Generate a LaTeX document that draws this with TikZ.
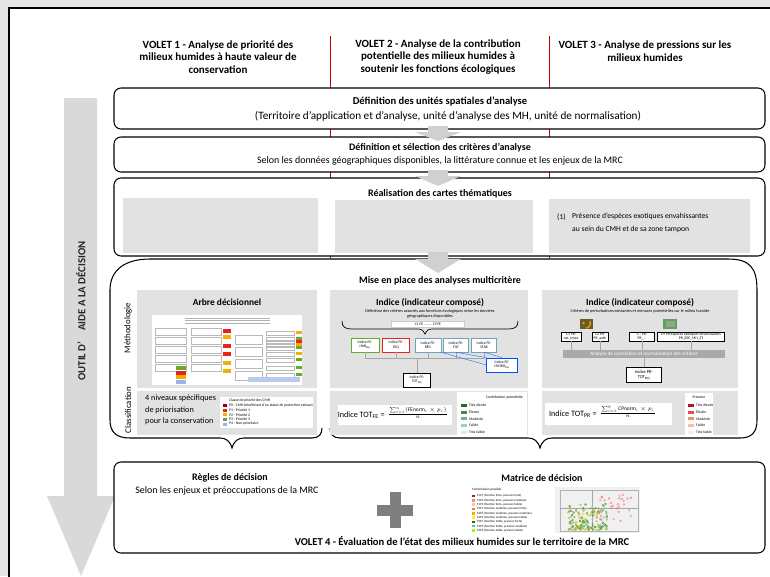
\documentclass[tikz,border=0pt]{standalone}
\usepackage{fix-cm}
\usepackage{amsmath}
\usepackage{fontspec}
\setmainfont{Carlito}
\usepackage{tikz}
\usetikzlibrary{positioning, calc}

\definecolor{bggray}{HTML}{E6E6E6}
\definecolor{panelgray}{HTML}{E2E2E2}
\definecolor{biggray}{HTML}{D9D9D9}
\definecolor{flowgray}{HTML}{D0D0D0}
\definecolor{plusgray}{HTML}{7F7F7F}
\definecolor{bargray}{HTML}{A9A9A9}
\definecolor{redline}{HTML}{C00000}
\definecolor{tagred}{HTML}{E8221C}
\definecolor{tagorange}{HTML}{F2B000}
\definecolor{taggreen}{HTML}{6AAA2A}
\definecolor{tagblue}{HTML}{9DB3E8}
\definecolor{tagdark}{HTML}{8B0000}
\definecolor{gA}{HTML}{1E6B35}
\definecolor{gB}{HTML}{3D8B4F}
\definecolor{gC}{HTML}{78B08A}
\definecolor{gD}{HTML}{A9CFB3}
\definecolor{gE}{HTML}{DCEFE2}
\definecolor{rA}{HTML}{B0182A}
\definecolor{rB}{HTML}{D9534F}
\definecolor{rC}{HTML}{E8907A}
\definecolor{rD}{HTML}{F2C0A8}
\definecolor{rE}{HTML}{FBEBDF}

\begin{document}
\begin{tikzpicture}[x=0.03cm, y=-0.03cm,
    hdr/.style={font=\fontsize{9.4}{10.6}\selectfont\bfseries, align=center, inner sep=0pt},
    ttl/.style={font=\fontsize{8.5}{10}\selectfont\bfseries, inner sep=0pt},
    txt/.style={font=\fontsize{8.5}{10}\selectfont, inner sep=0pt},
    sub/.style={font=\fontsize{8}{9}\selectfont\bfseries, inner sep=0pt},
    side/.style={rotate=90, font=\fontsize{7.5}{9}\selectfont, inner sep=0pt},
    stage/.style={draw, line width=0.9pt, rounded corners=6pt, fill=white},
    panel/.style={fill=panelgray},
    mini/.style={draw, font=\fontsize{3.2}{3.6}\selectfont, align=center, inner sep=0.6pt, fill=white},
    formula/.style={font=\fontsize{7}{8}\selectfont, inner sep=0pt},
    fracpart/.style={font=\fontsize{4.6}{5}\selectfont, inner sep=0.3pt},
    legbox/.style={fill=white},
    legtxt/.style={font=\fontsize{3.2}{3.6}\selectfont, inner sep=0pt, anchor=west}]

  % Frame of the page
  \useasboundingbox (0,0) rectangle (770,576);
  \fill[bggray] (0,0) rectangle (770,576);
  \draw[line width=1.6pt, fill=white] (9,8) rectangle (800,600);

  % Big arrow of the decision tool
  \fill[biggray] (64,98) -- (97,98) -- (97,496) -- (115,496) -- (81,576) -- (47,496) -- (64,496) -- cycle;
  \node[rotate=90, font=\fontsize{9.2}{11}\selectfont\bfseries, text=black!85] (outil) at (81,311)
    {OUTIL D'\hspace{1em}AIDE A LA DÉCISION};

  % Column headers and separators
  \node[hdr] (volet1) at (218,57) {VOLET 1 - Analyse de priorité des\\milieux humides à haute valeur de\\conservation};
  \node[hdr] (volet2) at (438,57) {VOLET 2 - Analyse de la contribution\\potentielle des milieux humides à\\soutenir les fonctions écologiques};
  \node[hdr] (volet3) at (645,51) {VOLET 3 - Analyse de pressions sur les\\milieux humides};
  \draw[redline, line width=0.8pt] (330,36) -- (330,258);
  \draw[redline, line width=0.8pt] (549,36) -- (549,258);

  % Stage 1
  \draw[stage] (114,88) rectangle (765,129);
  \node[ttl, font=\fontsize{9}{10}\selectfont\bfseries] (unites) at (440,101) {Définition des unités spatiales d'analyse};
  \node[txt, font=\fontsize{9.6}{10}\selectfont] (territoire) at (448,116) {(Territoire d'application et d'analyse, unité d'analyse des MH, unité de normalisation)};

  % Stage 2
  \draw[stage] (114,137) rectangle (765,172);
  \node[ttl] (criteres) at (440,148) {Définition et sélection des critères d'analyse};
  \node[txt] (selon) at (440,161) {Selon les données géographiques disponibles, la littérature connue et les enjeux de la MRC};

  % Stage 3
  \draw[stage] (114,178) rectangle (765,256);
  \fill[panelgray] (123,198) rectangle (318,253);
  \fill[panelgray] (335,200) rectangle (533,253);
  \fill[panelgray] (549,199) rectangle (750,253);
  \node[ttl] (cartes) at (440,194) {Réalisation des cartes thématiques};
  \node[font=\fontsize{6.5}{8}\selectfont, inner sep=0pt, anchor=west] (num) at (557,217) {(1)};
  \node[font=\fontsize{6.5}{11}\selectfont, inner sep=0pt, anchor=north west, align=left] (exotiques) at (572,213)
    {Présence d'espèces exotiques envahissantes\\au sein du CMH et de sa zone tampon};

  % Stage 4
  \draw[line width=0.9pt] (150,259) -- (728,259) .. controls (750,259) and (757,268) .. (757,290)
    -- (757,420) .. controls (757,432) and (752,438) .. (740,438) -- (552,438)
    .. controls (546,438) and (542,441) .. (540,448) .. controls (538,441) and (534,438) .. (528,438)
    -- (340,438) .. controls (333,438) and (330,434) .. (330,428);
  \draw[line width=0.9pt] (322,428) .. controls (322,434) and (319,438) .. (312,438) -- (244,438)
    .. controls (238,438) and (234,441) .. (232,448) .. controls (230,441) and (226,438) .. (220,438)
    -- (130,438) .. controls (116,438) and (110,432) .. (110,420) -- (110,290)
    .. controls (110,270) and (125,259) .. (150,259);
  \node[ttl] (mise) at (440,281) {Mise en place des analyses multicritère};
  \node[side] (metho) at (128,328) {Méthodologie};
  \node[side] (classif) at (128,410) {Classification};
  \foreach \xa/\xb in {137/317, 330/528, 542/738} {
    \fill[panelgray] (\xa,290) rectangle (\xb,388);
    \fill[panelgray] (\xa,391) rectangle (\xb,435);
  }

  % Panel 1 : decision tree
  \node[sub] (arbre) at (227,302) {Arbre décisionnel};
  \fill[white] (152,315) rectangle (302,385);
  \foreach \yy in {318,320.5,323}
    \draw[gray!60, line width=0.25pt] (185,\yy) -- (270,\yy);
  \foreach \yy in {328,337,346,355,364} {
    \draw[gray!55, line width=0.2pt] (155,\yy) rectangle (186,\yy+7);
    \draw[gray!55, line width=0.2pt] (191,\yy) rectangle (221,\yy+7);
  }
  \foreach \yy/\c in {329/tagred, 335/tagorange, 344/tagred, 352/tagred, 361/tagorange, 369/tagorange}
    \fill[\c] (223,\yy) rectangle (231,\yy+3.5);
  \foreach \yy in {335,347,359,371}
    \draw[gray!55, line width=0.2pt] (235,\yy) rectangle (262,\yy+9);
  \foreach \yy/\c in {331/tagorange, 337/taggreen, 340/tagred, 343/tagorange, 346/taggreen, 352/tagorange, 358/taggreen, 366/taggreen, 373/taggreen} {
    \draw[gray!55, line width=0.2pt] (266,\yy) rectangle (294,\yy+4);
    \fill[\c] (296,\yy) rectangle (302,\yy+3);
  }
  \foreach \yy/\c in {366/taggreen, 370.5/tagred, 375/tagorange, 379.5/tagblue}
    \fill[\c] (176,\yy) rectangle (186,\yy+4);
  \fill[tagblue!70] (248,377) rectangle (300,382);

  % Panel 1 : classification
  \node[font=\fontsize{7}{10}\selectfont, inner sep=0pt, anchor=west, align=left] (niveaux) at (145,410)
    {4 niveaux spécifiques\\de priorisation\\pour la conservation};
  \fill[legbox] (220,397) rectangle (313,428);
  \node[legtxt] (classe) at (229,400) {Classe de priorité des CMH};
  \foreach \c/\t [count=\k] in {tagdark/{P0 - CMH bénéficiant d'un statut de protection existant}, tagred/{P1 - Priorité 1},
      tagorange/{P2 - Priorité 2}, taggreen/{P3 - Priorité 3}, tagblue/{P4 - Non prioritaire}} {
    \fill[\c] (223,399.5+4.6*\k) rectangle (227,402.5+4.6*\k);
    \node[legtxt] (p\k) at (229,401+4.6*\k) {\t};
  }

  % Panel 2 : composite index of ecological functions
  \node[sub] (indfe) at (430,303) {Indice (indicateur composé)};
  \node[font=\fontsize{3.6}{4.4}\selectfont, inner sep=0pt, align=center] (deffe) at (430,314)
    {Définition des critères associés aux fonctions écologiques selon les données\\géographiques disponibles};
  \node[mini, draw=gray!40, minimum width=62pt, minimum height=5pt] (cfe) at (428,324) {C1 FE ........ C9 FE};
  \draw[line width=0.6pt] (342,321) .. controls (342,327) and (345,329) .. (352,329) -- (418,329)
    .. controls (422,329) and (424,331) .. (425,334) .. controls (426,331) and (428,329) .. (432,329)
    -- (508,329) .. controls (515,329) and (518,327) .. (518,321);
  \node[mini, draw=taggreen, minimum width=24pt, minimum height=12pt] (hab) at (365,345) {Indice FE-\\HAB\textsubscript{FEij}};
  \node[mini, draw=tagred, minimum width=23pt, minimum height=12pt] (seq) at (396,345) {Indice FE-\\SEQ};
  \node[mini, draw=cyan!40!gray, minimum width=22pt, minimum height=12pt] (reg) at (428,345) {Indice FE-\\RÉG};
  \node[mini, draw=cyan!40!gray, minimum width=21pt, minimum height=12pt] (filt) at (456,345) {Indice FE-\\FILT};
  \node[mini, draw=cyan!40!gray, minimum width=21pt, minimum height=12pt] (stab) at (484,345) {Indice FE-\\STAB};
  \node[mini, draw=blue!70!cyan, line width=0.6pt, minimum width=26pt, minimum height=12pt] (hydro) at (502,365) {Indice FE-\\HYDRO\textsubscript{FEij}};
  \node[mini, line width=0.8pt, minimum width=23pt, minimum height=12pt] (totfe) at (417,380) {Indice FE-\\TOT\textsubscript{FEij}};
  \coordinate (joinfe) at (417,358);
  \foreach \n in {hab, seq, reg, filt, stab}
    \draw[gray!70, line width=0.3pt] (\n.south) -- (\n.south |- joinfe);
  \draw[gray!70, line width=0.3pt] (hab.south |- joinfe) -- (stab.south |- joinfe);
  \draw[gray!70, line width=0.3pt] (joinfe) -- (totfe.north);
  \draw[blue!60!cyan, line width=0.3pt] (reg.south east) -- (hydro.west);
  \draw[blue!60!cyan, line width=0.3pt] (filt.south) -- (hydro.north west);
  \draw[blue!60!cyan, line width=0.3pt] (stab.south) -- (hydro.north);

  % Panel 2 : classification
  \fill[legbox] (338,405) rectangle (452,425);
  \node[formula, anchor=east] (formfe) at (385,415) {Indice TOT\textsubscript{FE} =};
  \node[fracpart, anchor=south west] (numfe) at (389,414) {$\sum\nolimits_{i=1}^{n}(\mathrm{FEnorm}_i\times p_i)$};
  \node[fracpart, anchor=north] (denfe) at (numfe.south |- 0,416) {$n$};
  \draw[line width=0.3pt] (numfe.south west) -- (numfe.south east);
  \fill[legbox] (457,392) rectangle (527,435);
  \node[legtxt, anchor=east] (contrib) at (523,397) {Contribution potentielle};
  \foreach \c/\t [count=\k] in {gA/Très élevée, gB/Élevée, gC/Modérée, gD/Faible, gE/Très faible} {
    \fill[\c] (461,397+6.8*\k) rectangle (467,400+6.8*\k);
    \node[legtxt] (fe\k) at (469,398.5+6.8*\k) {\t};
  }

  % Panel 3 : composite index of pressures
  \node[sub] (indpr) at (640,303) {Indice (indicateur composé)};
  \node[font=\fontsize{3.6}{4.4}\selectfont, inner sep=0pt] (defpr) at (640,311)
    {Critères de perturbations existantes et menaces potentielles sur le milieu humide};
  \fill[olive!60!black] (580,319) rectangle (593,329);
  \fill[orange!90!yellow] (583.5,323) circle (1.5);
  \draw[orange!90!yellow, line width=1.2pt] (590,321) .. controls (591,325) and (589,328) .. (586,328);
  \fill[green!25!gray] (663,319) rectangle (677,329);
  \fill[green!15!gray!80] (666,321) rectangle (675,327);
  \node[mini, minimum width=17pt, minimum height=8pt] (c1pr) at (571,336.5) {C1 PR-\\nat\_tmea};
  \node[mini, minimum width=14pt, minimum height=8pt] (c2pr) at (600,336.5) {C2 PR-\\PR\_anth};
  \node[mini, minimum width=21pt, minimum height=8pt] (cipr) at (642,336.5) {C.. PR-\\PR\_...};
  \node[mini, minimum width=57pt, minimum height=8pt] (c9pr) at (691,336.5) {C9 PR-Espèces exotiques envahissantes\\PR\_EEE\_MH\_ZT};
  \node[fill=bargray, text=white, font=\fontsize{4.4}{5}\selectfont, minimum width=138pt, minimum height=7pt, inner sep=0pt] (normpr) at (644,354)
    {Analyse de corrélation et normalisation des critères};
  \foreach \n in {c1pr, c2pr, cipr, c9pr}
    \draw[gray!70, line width=0.3pt] (\n.south) -- (\n.south |- normpr.north);
  \node[mini, line width=0.8pt, minimum width=30pt, minimum height=13pt, font=\fontsize{3.8}{4.6}\selectfont] (totpr) at (644,375) {Indice PR-\\TOT\textsubscript{PRij}};
  \draw[gray!70, line width=0.3pt] (normpr.south) -- (totpr.north);

  % Panel 3 : classification
  \fill[legbox] (545,403) rectangle (672,425);
  \node[formula, anchor=east] (formpr) at (597,414) {Indice TOT\textsubscript{PR} =};
  \node[fracpart, anchor=south west] (numpr) at (601,413) {$\sum\nolimits_{i=1}^{9}\mathrm{CPnorm}_i\times p_i$};
  \node[fracpart, anchor=north] (denpr) at (numpr.south |- 0,415) {$n$};
  \draw[line width=0.3pt] (numpr.south west) -- (numpr.south east);
  \fill[legbox] (685,393) rectangle (713,435);
  \node[legtxt, anchor=center] (pression) at (699,397) {Pression};
  \foreach \c/\t [count=\k] in {rA/Très élevée, rB/Élevée, rC/Modérée, rD/Faible, rE/Très faible} {
    \fill[\c] (688,397+6.8*\k) rectangle (694,400+6.8*\k);
    \node[legtxt] (pr\k) at (696,398.5+6.8*\k) {\t};
  }

  % Stage 5
  \draw[stage] (114,462) rectangle (765,553);
  \node[ttl] (regles) at (230,478) {Règles de décision};
  \node[txt] (enjeux) at (227,491) {Selon les enjeux et préoccupations de la MRC};
  \fill[plusgray] (389.5,492) rectangle (400.5,528);
  \fill[plusgray] (377,504.5) rectangle (413,515.5);
  \node[ttl] (matrice) at (542,478) {Matrice de décision};
  \node[legtxt, font=\fontsize{2.8}{3}\selectfont] (combi) at (472,490) {Combinaison possible};
  \foreach \c/\t [count=\k] in {rA/{F1P1 (fonction forte, pression forte)}, rC/{F1P2 (fonction forte, pression modérée)},
      rD/{F1P3 (fonction forte, pression faible)}, orange/{F2P1 (fonction modérée, pression forte)},
      tagorange/{F2P2 (fonction modérée, pression modérée)}, yellow/{F2P3 (fonction modérée, pression faible)},
      gA/{F3P1 (fonction faible, pression forte)}, gC/{F3P2 (fonction faible, pression modérée)},
      lime!80!green/{F3P3 (fonction faible, pression faible)}} {
    \fill[\c] (472,490.5+4.3*\k) rectangle (475,493+4.3*\k);
    \node[legtxt, font=\fontsize{2.6}{3}\selectfont] (m\k) at (477,491.8+4.3*\k) {\t};
  }
  % scatter of the decision matrix
  \fill[gray!12] (555,487) rectangle (640,533);
  \draw[gray!60, line width=0.2pt] (560,490) rectangle (638,531);
  \draw[gray!70, line width=0.25pt] (560,508) -- (638,508);
  \draw[gray!70, line width=0.25pt] (592,490) -- (592,531);
  \pgfmathsetseed{12}
  \foreach \c in {green!55!black, olive, teal!70, yellow!80!black, lime!70!black} {
    \foreach \i in {1,...,34} {
      \pgfmathsetmacro{\px}{568+40*rnd}
      \pgfmathsetmacro{\py}{503+27*rnd^0.7}
      \draw[\c, line width=0.2pt] (\px,\py) circle (0.9);
    }
  }
  \foreach \i in {1,...,28} {
    \pgfmathsetmacro{\px}{596+38*rnd}
    \pgfmathsetmacro{\py}{494+28*rnd}
    \draw[red!60, line width=0.2pt] (\px,\py) circle (0.9);
  }
  \node[ttl, font=\fontsize{9}{10}\selectfont\bfseries] (volet4) at (462,541)
    {VOLET 4 - Évaluation de l'état des milieux humides sur le territoire de la MRC};

  % Flow arrows between the stages
  \foreach \ya/\yb/\yc in {126/132/141, 170/176/186, 252/259/273}
    \fill[flowgray] (428,\ya) -- (448,\ya) -- (448,\yb) -- (461,\yb) -- (438,\yc) -- (415,\yb) -- (428,\yb) -- cycle;
\end{tikzpicture}
\end{document}
